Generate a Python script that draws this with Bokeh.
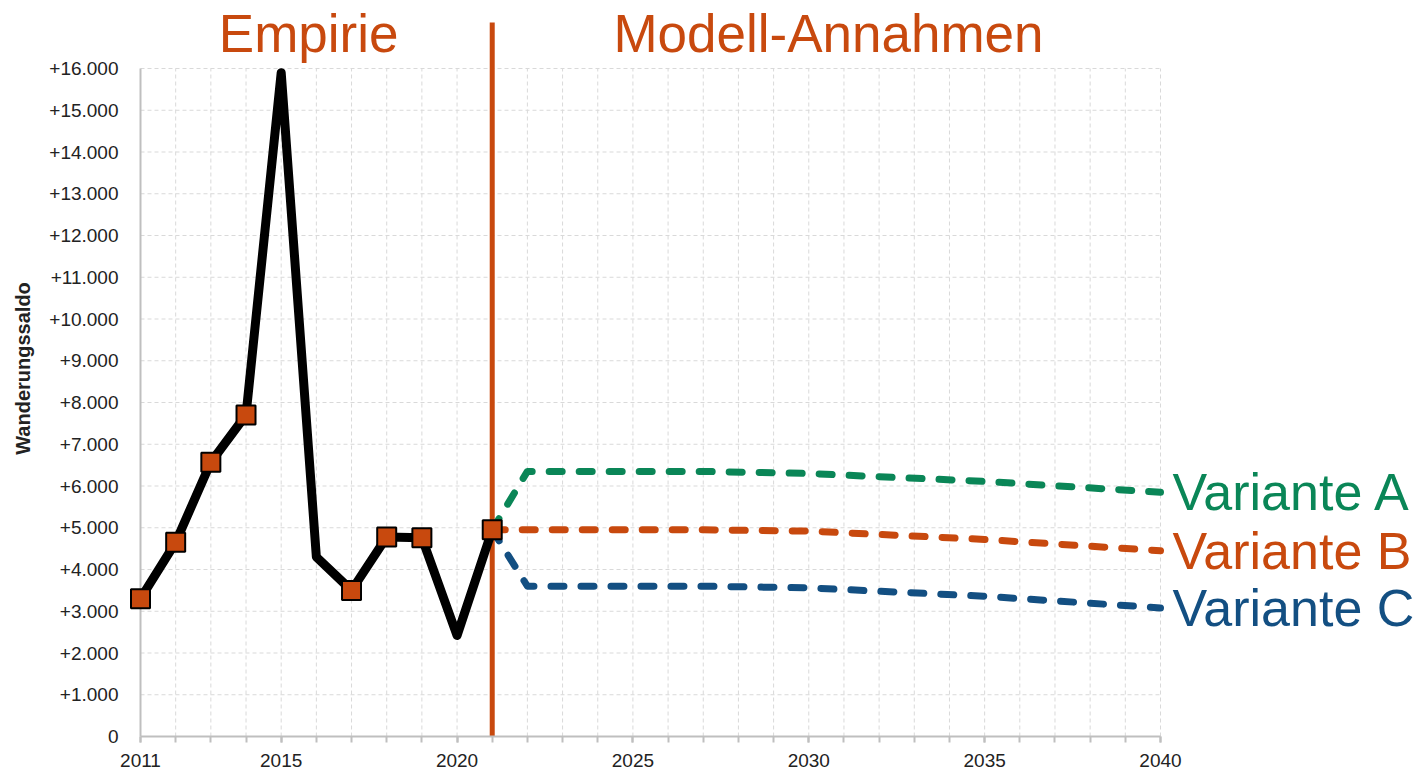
from bokeh.plotting import figure
from bokeh.models import FixedTicker, Label, Range1d
from bokeh.embed import file_html
from bokeh.resources import INLINE

# ---- data ----
years_hist = [2011, 2012, 2013, 2014, 2015, 2016, 2017, 2018, 2019, 2020, 2021]
saldo_hist = [3300, 4650, 6570, 7700, 15900, 4300, 3500, 4780, 4760, 2420, 4950]
has_marker = [1, 1, 1, 1, 0, 0, 1, 1, 1, 0, 1]

variant_years = [2021, 2022, 2027, 2030, 2035, 2040]
variant_a = [4950, 6350, 6350, 6300, 6110, 5850]
variant_b = [4950, 4950, 4950, 4920, 4720, 4450]
variant_c = [4950, 3600, 3600, 3560, 3360, 3080]
variant_names = ["Variante A", "Variante B", "Variante C"]

all_years = list(range(2011, 2041))
x_label_years = [2011, 2015, 2020, 2025, 2030, 2035, 2040]
y_ticks = list(range(0, 17000, 1000))
y_tick_labels = ["0"] + ["+" + f"{v:,}".replace(",", ".") for v in y_ticks[1:]]

section_titles = ["Empirie", "Modell-Annahmen"]
section_x = [2015.78, 2030.56]
section_y = 16840
divider_year = 2021
divider_top = 17100

RED = "#C8490E"
GREEN = "#0A8657"
BLUE = "#134F82"
GRID = "#D9D9D9"
AXIS = "#BFBFBF"
TXT = "#222222"
SANS = "Liberation Sans"

W, H = 1424, 774
LEFT, BOTTOM = 129, 38
px_per_year = 1020 / 29
px_per_unit = 668 / 16000
x0 = 2011 - (140 - LEFT) / px_per_year
x1 = x0 + (W - LEFT) / px_per_year
y1 = (H - BOTTOM) / px_per_unit

p = figure(width=W, height=H,
           x_range=Range1d(x0, x1), y_range=Range1d(0, y1),
           output_backend="svg", toolbar_location=None,
           min_border_left=LEFT, min_border_right=0,
           min_border_top=0, min_border_bottom=BOTTOM)
p.outline_line_color = None
p.background_fill_color = "white"
p.border_fill_color = "white"
p.xgrid.visible = False
p.ygrid.visible = False

# x axis
xa = p.xaxis[0]
xa.ticker = FixedTicker(ticks=x_label_years, minor_ticks=all_years)
xa.bounds = (all_years[0], all_years[-1])
xa.axis_line_color = AXIS
xa.axis_line_width = 2
xa.major_tick_in = 0
xa.major_tick_out = 6
xa.minor_tick_in = 0
xa.minor_tick_out = 6
xa.major_tick_line_color = AXIS
xa.minor_tick_line_color = AXIS
xa.major_tick_line_width = 2
xa.minor_tick_line_width = 2
xa.major_label_text_font = SANS
xa.major_label_text_font_size = "19px"
xa.major_label_text_color = TXT
xa.major_label_standoff = 11

# y axis
ya = p.yaxis[0]
ya.ticker = FixedTicker(ticks=y_ticks)
ya.bounds = (y_ticks[0], y_ticks[-1])
ya.major_label_overrides = {v: s for v, s in zip(y_ticks, y_tick_labels)}
ya.axis_line_color = None
ya.major_tick_line_color = None
ya.minor_tick_line_color = None
ya.major_tick_in = 0
ya.major_tick_out = 0
ya.major_label_standoff = 11
ya.major_label_text_font = SANS
ya.major_label_text_font_size = "19px"
ya.major_label_text_color = TXT
ya.axis_label = "Wanderungssaldo"
ya.axis_label_text_font = SANS
ya.axis_label_text_font_style = "bold"
ya.axis_label_text_font_size = "20px"
ya.axis_label_text_color = TXT
ya.axis_label_standoff = 12

# grid lines (limited to the data area)
p.segment(x0=all_years[0], x1=all_years[-1], y0=y_ticks[1:], y1=y_ticks[1:],
          line_color=GRID, line_dash="4 3", line_width=1)
p.segment(x0=all_years[1:], x1=all_years[1:], y0=y_ticks[0], y1=y_ticks[-1],
          line_color=GRID, line_dash="4 3", line_width=1)
# left axis line at 2011
p.segment(x0=[all_years[0]], x1=[all_years[0]], y0=[y_ticks[0]], y1=[y_ticks[-1]],
          line_color=AXIS, line_width=2)

# divider line
p.segment(x0=[divider_year], x1=[divider_year], y0=[0], y1=[divider_top],
          line_color=RED, line_width=5)

# variants
for vals, col in zip([variant_a, variant_b, variant_c], [GREEN, RED, BLUE]):
    p.line(variant_years, vals, line_color=col, line_width=7,
           line_dash="13 17", line_cap="round", line_join="round")

# history
p.line(years_hist, saldo_hist, line_color="black", line_width=9, line_join="round")
mx = [x for x, m in zip(years_hist, has_marker) if m]
my = [y for y, m in zip(saldo_hist, has_marker) if m]
p.scatter(mx, my, marker="square", size=19, fill_color=RED, line_color="black", line_width=2)

# section titles
for t, x in zip(section_titles, section_x):
    p.add_layout(Label(x=x, y=section_y, text=t, text_font=SANS, text_font_size="53px",
                       text_color=RED, text_align="center", text_baseline="middle"))

# variant labels
for name, vals, col in zip(variant_names, [variant_a, variant_b, variant_c], [GREEN, RED, BLUE]):
    p.add_layout(Label(x=variant_years[-1], y=vals[-1], x_offset=12, text=name,
                       text_font=SANS, text_font_size="52px", text_color=col,
                       text_align="left", text_baseline="middle"))

open("out.html", "w").write(file_html(p, INLINE))
